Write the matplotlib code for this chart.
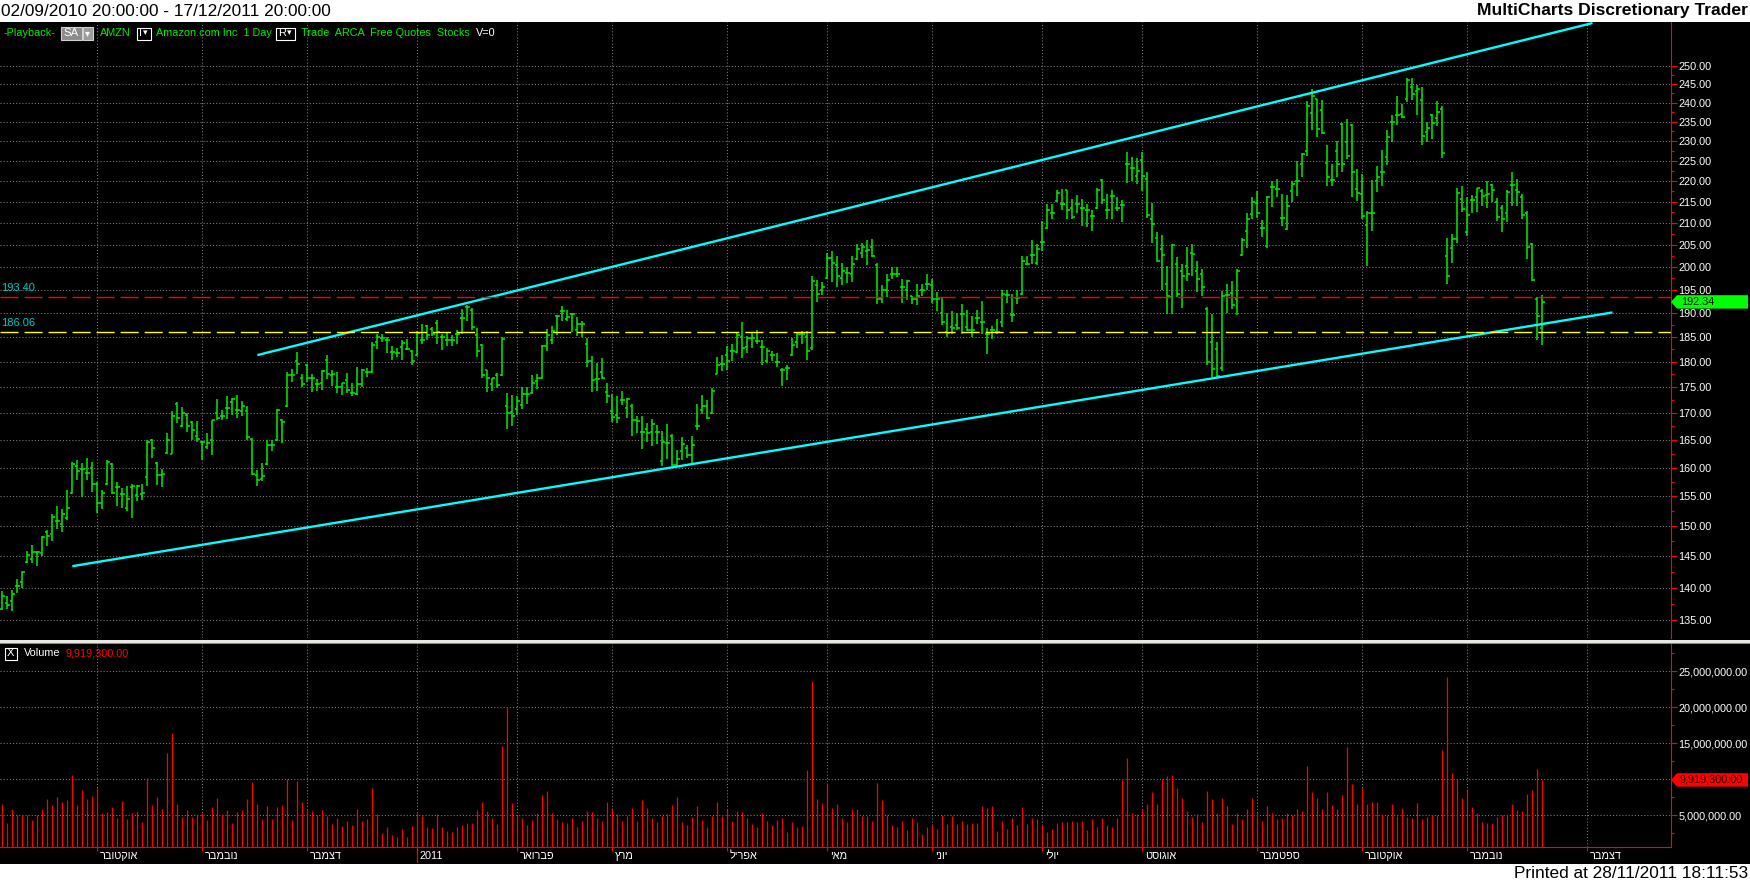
import numpy as np
import matplotlib
matplotlib.use("Agg")
import matplotlib.pyplot as plt
from matplotlib.patches import Rectangle, Polygon
from matplotlib.ticker import FixedLocator, FuncFormatter, NullFormatter
from matplotlib.transforms import blended_transform_factory

plt.rcParams['font.family'] = ['Liberation Sans', 'DejaVu Sans']

# AMZN daily bars
opens = [
    136.7, 137.6, 137.9, 140.3, 140.9, 144.0, 144.6, 145.6, 145.5, 149.0,
    148.7, 150.7, 150.3, 151.2, 155.5, 160.2, 159.8, 159.0, 160.0, 157.1,
    153.9, 157.1, 160.7, 156.5, 155.3, 153.0, 156.5, 155.2, 155.3, 158.4,
    165.0, 160.8, 158.6, 162.7, 162.5, 171.7, 167.6, 169.7, 168.3, 165.8,
    164.6, 163.7, 164.9, 170.0, 169.5, 170.9, 172.0, 170.6, 170.3, 170.3,
    165.2, 158.7, 158.0, 160.7, 164.0, 165.0, 168.7, 171.4, 177.3, 180.1,
    176.8, 179.3, 176.7, 175.5, 175.7, 180.3, 177.3, 174.9, 174.9, 176.4,
    173.8, 173.6, 175.5, 178.0, 178.0, 183.9, 184.7, 184.3, 182.0, 181.7,
    183.0, 182.6, 182.1, 181.4, 184.3, 187.2, 186.6, 187.8, 185.0, 184.3,
    184.3, 185.6, 188.9, 191.2, 190.6, 185.3, 183.3, 178.3, 175.5, 177.3,
    177.3, 171.4, 170.1, 170.8, 171.6, 173.6, 173.9, 176.2, 176.7, 183.1,
    184.3, 189.3, 190.5, 188.7, 189.8, 186.5, 187.7, 183.5, 180.1, 176.6,
    178.0, 174.0, 170.3, 169.6, 172.4, 171.0, 171.4, 168.7, 166.5, 167.0,
    166.5, 166.4, 161.1, 164.4, 165.7, 160.5, 163.0, 163.5, 162.2, 167.6,
    170.5, 171.4, 170.0, 177.6, 179.5, 181.4, 182.2, 181.9, 185.0, 183.0,
    184.7, 184.2, 183.0, 180.2, 181.3, 180.0, 178.4, 178.8, 181.4, 184.0,
    185.6, 185.0, 182.7, 196.0, 195.0, 197.6, 202.0, 200.5, 197.5, 198.6,
    198.3, 201.8, 203.0, 203.5, 204.5, 200.5, 193.0, 195.0, 198.3, 198.5,
    195.6, 195.0, 193.5, 193.0, 194.9, 196.2, 196.0, 192.9, 190.0, 186.0,
    187.0, 187.5, 189.7, 187.0, 186.4, 189.0, 188.0, 185.6, 186.4, 186.0,
    188.0, 193.8, 189.5, 193.1, 194.0, 200.7, 202.7, 200.9, 205.5, 208.7,
    212.2, 215.1, 214.4, 217.7, 213.5, 214.4, 213.5, 213.1, 211.6, 213.5,
    220.2, 213.1, 216.4, 213.5, 214.2, 224.3, 223.3, 221.3, 225.1, 220.4,
    211.0, 206.5, 204.0, 196.2, 193.3, 200.6, 199.0, 200.1, 203.0, 199.0,
    198.3, 190.9, 184.0, 182.6, 178.7, 193.8, 194.3, 193.0, 202.7, 208.0,
    212.0, 214.6, 208.9, 204.7, 218.5, 218.0, 211.2, 208.5, 217.5, 220.1,
    224.1, 227.5, 237.2, 240.9, 238.0, 224.5, 220.3, 227.4, 234.5, 229.7,
    234.1, 218.1, 216.9, 209.5, 212.2, 220.1, 222.3, 226.0, 235.0, 236.7,
    237.0, 240.9, 244.3, 243.0, 240.7, 232.2, 236.8, 235.9, 238.4, 202.4,
    204.1, 206.3, 215.6, 207.8, 215.4, 216.2, 217.6, 216.6, 219.1, 214.8,
    213.4, 212.2, 218.9, 217.8, 216.2, 212.2, 205.1, 193.0, 186.9,
]
highs = [
    139.5, 138.7, 139.7, 141.3, 142.6, 145.9, 146.8, 145.8, 148.3, 149.2,
    152.0, 153.3, 152.8, 156.1, 161.0, 161.3, 160.9, 161.8, 161.0, 157.5,
    156.1, 161.3, 160.9, 157.4, 156.4, 156.8, 157.1, 157.0, 157.1, 164.9,
    165.2, 161.0, 159.8, 166.3, 170.3, 172.1, 171.1, 170.0, 168.5, 168.5,
    164.8, 166.2, 168.7, 172.7, 170.6, 173.3, 172.8, 173.5, 172.2, 171.4,
    165.4, 159.5, 160.8, 165.0, 164.9, 170.8, 168.8, 178.0, 178.5, 182.0,
    177.6, 179.5, 177.5, 176.5, 178.4, 181.4, 178.3, 178.0, 175.8, 177.8,
    175.7, 179.0, 178.5, 178.8, 183.9, 185.7, 185.6, 184.9, 183.1, 182.8,
    184.3, 184.5, 182.3, 186.2, 187.7, 187.4, 187.1, 188.5, 185.6, 186.0,
    185.3, 186.4, 190.8, 191.7, 191.0, 186.8, 183.5, 178.4, 176.8, 177.8,
    184.9, 173.8, 173.4, 173.3, 175.0, 175.0, 177.3, 177.5, 183.3, 186.6,
    187.2, 189.5, 191.4, 190.6, 190.0, 189.1, 188.4, 184.7, 181.1, 179.8,
    180.8, 175.8, 173.7, 173.2, 174.3, 172.9, 171.8, 169.5, 169.5, 168.1,
    168.9, 167.8, 166.7, 167.9, 166.0, 163.2, 165.5, 164.1, 165.8, 171.8,
    173.4, 172.4, 174.7, 181.0, 181.4, 183.2, 183.5, 186.1, 188.1, 185.2,
    186.0, 186.5, 184.4, 182.7, 182.1, 181.8, 178.8, 179.4, 184.8, 186.0,
    186.3, 186.3, 198.0, 197.0, 196.6, 203.0, 203.5, 202.5, 200.9, 199.9,
    202.3, 205.2, 205.4, 206.1, 206.3, 200.9, 195.9, 198.3, 200.0, 200.0,
    197.2, 197.0, 193.7, 196.3, 196.2, 198.5, 197.2, 194.4, 193.2, 189.9,
    190.5, 189.9, 191.9, 190.7, 189.4, 190.7, 192.5, 186.8, 187.2, 188.8,
    194.8, 195.0, 194.1, 194.8, 202.5, 202.3, 206.1, 205.2, 210.5, 214.4,
    214.4, 217.7, 218.1, 217.9, 215.6, 216.7, 215.7, 214.4, 213.1, 218.3,
    220.4, 216.9, 217.9, 216.0, 215.5, 227.1, 225.9, 225.8, 227.3, 222.3,
    214.6, 207.9, 207.2, 200.2, 205.2, 202.2, 200.6, 204.5, 205.1, 201.2,
    199.5, 191.2, 189.7, 184.0, 194.7, 196.2, 196.9, 199.5, 206.5, 212.2,
    216.2, 217.6, 210.6, 216.4, 220.1, 220.5, 216.8, 216.6, 219.9, 224.9,
    226.9, 240.4, 243.6, 241.1, 240.6, 228.9, 224.3, 230.1, 234.7, 235.8,
    234.3, 223.0, 221.6, 212.8, 220.3, 223.6, 227.8, 232.7, 236.7, 241.7,
    239.7, 246.6, 246.6, 244.8, 244.3, 234.8, 237.0, 240.4, 239.0, 206.5,
    207.3, 218.4, 218.8, 216.2, 216.6, 218.3, 218.0, 220.1, 219.3, 215.8,
    214.2, 217.8, 222.3, 220.4, 216.8, 212.8, 205.3, 193.3, 193.8,
]
lows = [
    136.6, 136.8, 136.4, 139.2, 140.0, 143.9, 143.9, 143.5, 145.1, 146.6,
    147.4, 149.5, 149.0, 151.0, 155.3, 157.8, 154.9, 157.8, 155.7, 152.2,
    152.8, 156.9, 155.3, 153.3, 152.9, 152.4, 151.3, 154.1, 154.3, 156.7,
    161.7, 157.0, 156.5, 162.4, 162.4, 168.2, 167.4, 166.5, 164.9, 164.6,
    161.3, 163.4, 162.2, 168.6, 168.7, 168.8, 169.7, 169.0, 169.5, 165.0,
    158.7, 156.7, 157.7, 160.5, 162.9, 164.8, 164.4, 171.2, 176.0, 177.6,
    174.9, 176.0, 174.0, 174.2, 174.5, 176.5, 175.1, 173.8, 173.4, 173.8,
    173.3, 173.4, 174.9, 177.0, 177.8, 182.5, 183.9, 181.7, 180.3, 181.0,
    180.3, 182.4, 179.3, 181.2, 183.5, 184.3, 185.2, 183.5, 182.3, 183.1,
    183.2, 183.5, 185.6, 188.4, 186.4, 181.0, 176.8, 174.1, 174.2, 174.7,
    177.2, 167.0, 167.6, 169.6, 170.8, 171.8, 173.6, 174.6, 176.5, 182.2,
    183.5, 185.3, 188.4, 188.2, 186.1, 185.1, 185.0, 179.0, 174.0, 174.2,
    176.6, 171.9, 168.3, 168.2, 171.5, 169.0, 165.8, 166.2, 163.4, 164.6,
    163.8, 164.3, 160.3, 161.5, 160.3, 160.3, 161.3, 161.7, 160.4, 166.8,
    169.9, 168.8, 169.8, 177.5, 178.2, 178.4, 180.2, 181.8, 180.8, 181.8,
    182.7, 183.6, 179.3, 179.8, 180.2, 178.9, 175.1, 176.4, 181.2, 182.7,
    183.5, 180.3, 182.4, 192.4, 193.8, 197.2, 196.7, 195.6, 196.0, 196.5,
    196.6, 201.6, 202.0, 200.3, 202.1, 191.9, 192.1, 193.3, 197.2, 197.7,
    192.0, 192.8, 191.8, 191.6, 193.5, 194.9, 192.0, 190.3, 187.4, 185.0,
    185.6, 186.5, 185.6, 186.2, 184.9, 187.6, 185.6, 181.5, 184.6, 185.6,
    187.0, 192.1, 188.1, 191.9, 193.8, 200.3, 200.7, 200.5, 203.5, 208.5,
    210.9, 214.9, 213.1, 211.0, 211.0, 212.2, 209.3, 209.1, 208.2, 213.3,
    214.4, 210.8, 211.0, 212.8, 210.3, 219.5, 220.0, 219.2, 217.5, 211.2,
    205.3, 201.1, 194.8, 189.8, 189.7, 193.3, 191.1, 196.9, 198.0, 194.5,
    193.5, 179.4, 177.0, 176.9, 178.2, 189.9, 190.8, 189.5, 202.5, 204.1,
    211.0, 211.2, 206.8, 204.2, 213.8, 216.0, 209.3, 208.3, 214.8, 216.4,
    220.9, 226.3, 232.7, 230.9, 231.8, 218.8, 218.8, 221.0, 222.1, 225.5,
    216.0, 215.2, 211.0, 200.2, 208.1, 217.2, 218.8, 224.0, 229.7, 234.0,
    236.0, 240.1, 240.6, 236.6, 228.9, 229.7, 230.4, 233.8, 225.6, 196.2,
    200.9, 205.4, 212.6, 207.0, 212.4, 212.6, 214.0, 213.6, 215.0, 210.5,
    207.8, 210.2, 214.0, 214.0, 211.0, 201.8, 196.9, 184.4, 183.3,
]
closes = [
    138.8, 137.3, 139.1, 140.3, 142.5, 145.2, 145.6, 145.6, 148.2, 148.3,
    151.5, 150.7, 152.0, 152.9, 160.7, 159.4, 159.7, 159.0, 157.1, 153.8,
    155.5, 161.0, 155.5, 156.5, 155.3, 154.5, 156.8, 156.8, 155.5, 164.7,
    163.5, 158.7, 158.8, 164.9, 169.5, 169.0, 170.0, 167.6, 166.8, 165.2,
    164.6, 164.4, 168.6, 169.0, 169.5, 170.9, 172.6, 170.6, 171.3, 165.6,
    158.8, 157.8, 158.5, 164.1, 164.0, 170.5, 168.3, 177.3, 177.3, 179.5,
    175.5, 176.8, 176.8, 175.5, 178.1, 177.6, 177.5, 174.9, 175.7, 174.4,
    173.8, 175.5, 178.3, 178.0, 183.4, 184.9, 184.7, 184.3, 182.0, 181.7,
    183.7, 182.6, 180.1, 185.9, 184.3, 185.3, 185.7, 186.0, 185.0, 184.3,
    184.3, 185.6, 188.9, 191.2, 187.0, 182.1, 177.3, 176.7, 176.7, 175.4,
    184.5, 170.0, 169.5, 172.2, 173.6, 173.6, 175.7, 176.7, 183.1, 185.3,
    186.3, 189.3, 190.5, 189.1, 189.8, 187.7, 187.7, 180.1, 176.4, 176.6,
    176.8, 173.3, 169.2, 169.1, 172.4, 172.7, 168.7, 168.5, 166.5, 166.2,
    168.0, 166.4, 164.6, 164.4, 160.5, 161.6, 164.2, 162.2, 164.0, 167.6,
    171.4, 169.0, 174.3, 179.3, 179.6, 180.1, 182.2, 185.4, 182.7, 184.7,
    184.7, 184.2, 183.0, 182.2, 181.3, 180.0, 178.4, 178.8, 183.4, 185.7,
    185.6, 182.2, 196.8, 194.1, 195.6, 202.0, 200.9, 198.0, 199.0, 198.6,
    200.7, 204.0, 204.4, 203.8, 202.3, 192.9, 194.8, 197.0, 198.3, 198.5,
    195.6, 196.8, 192.9, 193.5, 194.9, 196.2, 193.0, 192.9, 188.1, 185.8,
    186.9, 186.9, 189.7, 186.4, 186.4, 189.0, 188.0, 185.6, 186.4, 186.0,
    194.1, 193.8, 189.5, 193.1, 201.2, 200.7, 202.7, 204.0, 205.5, 213.1,
    212.2, 217.1, 214.4, 213.0, 211.3, 214.4, 213.5, 213.1, 211.6, 217.9,
    215.5, 213.1, 216.4, 213.5, 214.2, 224.3, 223.3, 222.5, 221.3, 211.8,
    209.7, 201.3, 202.6, 193.6, 205.0, 194.0, 197.9, 198.5, 202.8, 197.4,
    195.6, 180.0, 178.5, 177.2, 193.6, 193.8, 191.7, 199.1, 206.1, 210.8,
    215.0, 212.2, 208.9, 216.2, 218.5, 218.1, 211.2, 214.0, 219.3, 220.1,
    226.6, 239.2, 241.7, 233.2, 232.0, 221.0, 220.3, 224.2, 224.2, 226.3,
    222.3, 217.0, 211.6, 212.2, 212.2, 221.0, 222.3, 231.0, 235.0, 236.7,
    236.1, 246.0, 242.2, 243.8, 231.3, 233.3, 234.7, 237.4, 226.9, 198.0,
    206.3, 217.1, 213.2, 211.8, 215.4, 218.2, 216.4, 216.8, 217.8, 211.3,
    210.8, 217.3, 218.9, 217.4, 211.8, 204.5, 197.0, 189.3, 192.34,
]
# volume in millions of shares
volume_m = [
    6.6, 4.0, 5.9, 5.0, 5.0, 5.0, 4.4, 5.0, 5.9, 7.3,
    6.4, 7.5, 6.8, 7.1, 10.6, 6.4, 8.5, 7.3, 7.7, 8.8,
    5.3, 5.5, 6.2, 4.6, 7.0, 4.5, 5.3, 5.6, 4.1, 10.2,
    6.4, 7.5, 5.9, 13.7, 16.4, 6.6, 4.8, 5.7, 4.8, 5.0,
    5.3, 4.4, 6.2, 7.4, 5.2, 5.7, 3.9, 5.5, 5.7, 7.3,
    9.6, 6.6, 4.5, 6.3, 4.5, 6.2, 6.4, 10.0, 4.4, 9.8,
    6.9, 5.9, 5.6, 5.0, 5.7, 4.9, 3.8, 4.6, 3.5, 4.2,
    3.7, 5.9, 4.2, 4.5, 8.8, 5.2, 2.5, 3.4, 2.3, 2.0,
    3.1, 2.0, 3.5, 5.3, 4.9, 3.4, 3.2, 5.2, 3.4, 2.8,
    2.7, 3.4, 3.7, 3.9, 3.9, 5.7, 6.9, 5.6, 4.6, 3.8,
    14.6, 20.0, 6.7, 5.0, 4.6, 3.7, 4.4, 5.3, 7.8, 8.4,
    5.3, 4.5, 4.1, 3.9, 4.6, 3.4, 4.2, 5.6, 5.5, 4.6,
    4.2, 6.9, 5.9, 5.2, 4.2, 4.9, 6.0, 4.2, 7.1, 6.0,
    4.6, 4.1, 4.9, 5.2, 6.4, 7.5, 4.1, 3.7, 4.8, 6.3,
    4.4, 3.4, 4.9, 6.9, 4.9, 5.9, 4.2, 5.6, 5.5, 4.6,
    3.8, 3.4, 5.3, 4.2, 3.7, 4.4, 4.6, 2.7, 4.1, 3.4,
    3.5, 11.3, 23.7, 7.3, 6.7, 9.5, 6.0, 6.6, 4.6, 4.1,
    5.9, 5.9, 4.9, 4.9, 4.2, 9.5, 7.1, 5.0, 3.7, 3.4,
    4.2, 3.0, 4.6, 4.1, 2.4, 3.4, 3.7, 3.1, 5.0, 3.8,
    4.9, 3.8, 4.2, 3.8, 3.9, 3.9, 6.3, 6.0, 6.3, 2.8,
    4.2, 3.1, 4.6, 3.7, 6.2, 3.8, 4.6, 4.5, 3.7, 2.7,
    3.1, 3.9, 4.1, 4.1, 4.2, 4.1, 4.2, 3.0, 4.5, 3.4,
    4.6, 3.7, 3.4, 4.6, 9.9, 13.0, 5.3, 5.2, 5.9, 6.6,
    8.2, 6.6, 10.0, 10.5, 10.6, 8.8, 7.4, 5.6, 4.8, 5.2,
    4.1, 8.4, 7.3, 5.3, 7.4, 6.3, 3.8, 5.3, 4.5, 5.9,
    7.4, 5.3, 4.2, 6.3, 5.3, 4.5, 4.6, 5.3, 5.0, 5.9,
    5.6, 11.9, 8.2, 7.4, 5.9, 8.2, 6.4, 5.9, 7.8, 14.5,
    9.4, 6.6, 8.8, 6.6, 6.9, 6.9, 5.2, 5.0, 6.6, 4.9,
    6.0, 4.8, 4.6, 6.7, 4.5, 4.8, 5.0, 5.0, 14.1, 24.2,
    10.9, 10.0, 7.4, 8.7, 6.2, 5.3, 4.1, 3.9, 3.9, 4.8,
    5.0, 5.2, 6.6, 5.7, 5.6, 8.0, 8.5, 11.4, 9.9193,
]

# first bar of each month (bar index) and the Hebrew month names
month_start_bar = [19, 40, 61, 83, 103, 122, 145, 165, 186, 208, 228, 251, 272, 293, 317]
month_names = ['אוקטובר', 'נובמבר', 'דצמבר', '2011', 'פברואר', 'מרץ', 'אפריל', 'מאי',
               'יוני', 'יולי', 'אוגוסט', 'ספטמבר', 'אוקטובר', 'נובמבר', 'דצמבר']

# drawn trend lines (bar index, price)
upper_line_bar = [51, 318]
upper_line_price = [181.3, 262.2]
lower_line_bar = [14, 322]
lower_line_price = [143.4, 190.1]

level_prices = [193.40, 186.06]
level_colors = ['#ff0000', '#ffff00']
last_close = 192.34
last_volume = 9919300

W, H = 1750, 884
GREEN = '#00ee00'
CYAN = '#00ffff'
GRID = '#808080'


def fx(px):
    return px / W


def fy(py):
    return 1 - py / H


def vol_label(v, pos):
    # the 10M label sits under the last-volume marker, so it is not shown
    if abs(v - 10e6) < 1:
        return ''
    return f'{v:,.2f}'


fig = plt.figure(figsize=(W / 100, H / 100), dpi=100, facecolor='white')
fig.patches.append(Rectangle((0, fy(864)), 1, (864 - 22) / H, transform=fig.transFigure,
                             facecolor='black', edgecolor='none', zorder=-5))

ax_p = fig.add_axes([0, fy(638), fx(1671), (638 - 22) / H])
ax_v = fig.add_axes([0, fy(847), fx(1671), (847 - 643) / H])

x = np.arange(len(closes))

# ---- price panel
ax_p.set_facecolor('black')
ax_p.set_yscale('log')
ax_p.vlines(x, lows, highs, color=GREEN, lw=1.1)
ax_p.hlines(opens, x - 0.5, x, color=GREEN, lw=1.1)
ax_p.hlines(closes, x, x + 0.5, color=GREEN, lw=1.1)

ax_p.plot(upper_line_bar, upper_line_price, color=CYAN, lw=1.7, solid_capstyle='butt')
ax_p.plot(lower_line_bar, lower_line_price, color=CYAN, lw=1.7, solid_capstyle='butt')

for lvl, c in zip(level_prices, level_colors):
    ax_p.axhline(lvl, color=c, lw=1.0, dashes=(13, 4.3))
    ax_p.annotate(f'{lvl:.2f}', xy=(0, lvl), xycoords=ax_p.get_yaxis_transform(),
                  xytext=(1, 2.5), textcoords='offset points', color='#00c8c8',
                  fontsize=8, va='bottom', ha='left')

ax_p.set_xlim(-0.46, 333.7)
ax_p.set_ylim(132.4, 262.5)
ax_p.yaxis.tick_right()
ax_p.yaxis.set_major_locator(FixedLocator(np.arange(135, 251, 5)))
ax_p.yaxis.set_minor_locator(FixedLocator(np.arange(137.5, 251, 5)))
ax_p.yaxis.set_major_formatter(FuncFormatter(lambda v, p: f'{v:.2f}'))
ax_p.yaxis.set_minor_formatter(NullFormatter())
ax_p.tick_params(axis='y', which='both', colors='red', labelcolor='white', labelsize=7.8,
                 direction='out', width=0.8, pad=1.5)
ax_p.tick_params(axis='y', which='major', length=4)
ax_p.tick_params(axis='y', which='minor', length=2.5)
ax_p.set_xticks(month_start_bar)
ax_p.tick_params(axis='x', length=0, labelbottom=False)
ax_p.grid(True, which='major', color=GRID, linestyle=(0, (1, 2)), lw=0.75)
for s in ['top', 'left', 'bottom']:
    ax_p.spines[s].set_visible(False)
ax_p.spines['right'].set_color('red')

# last price marker
bt = blended_transform_factory(fig.transFigure, ax_p.transData)
k = np.exp(6.7 / 900)
ax_p.add_patch(Polygon([(fx(1671), last_close), (fx(1677), last_close * k), (fx(1748), last_close * k),
                        (fx(1748), last_close / k), (fx(1677), last_close / k)], closed=True,
                       transform=bt, facecolor='#00ff00', edgecolor='none', clip_on=False, zorder=10))
ax_p.text(fx(1681), last_close, f'{last_close:.2f}', transform=bt, color='black', fontsize=7.8,
          va='center', ha='left', clip_on=False, zorder=11)

# ---- volume panel
vol = np.array(volume_m) * 1e6
ax_v.set_facecolor('black')
ax_v.vlines(x, 0, vol, color='#ff0000', lw=0.9)
ax_v.set_xlim(-0.46, 333.7)
ax_v.set_ylim(0.6e6, 28.93e6)
ax_v.yaxis.tick_right()
ax_v.yaxis.set_major_locator(FixedLocator(np.arange(5e6, 26e6, 5e6)))
ax_v.yaxis.set_minor_locator(FixedLocator(np.arange(2.5e6, 28e6, 5e6)))
ax_v.yaxis.set_major_formatter(FuncFormatter(vol_label))
ax_v.yaxis.set_minor_formatter(NullFormatter())
ax_v.tick_params(axis='y', which='both', colors='red', labelcolor='white', labelsize=7.8,
                 direction='out', width=0.8, pad=1.5)
ax_v.tick_params(axis='y', which='major', length=4)
ax_v.tick_params(axis='y', which='minor', length=2.5)
ax_v.set_xticks(month_start_bar)
ax_v.tick_params(axis='x', colors='red', length=3, width=0.8, labelbottom=False)
ax_v.grid(True, which='major', color=GRID, linestyle=(0, (1, 2)), lw=0.75)
for s in ['top', 'left']:
    ax_v.spines[s].set_visible(False)
ax_v.spines['right'].set_color('red')
ax_v.spines['bottom'].set_color('red')

xt = ax_v.get_xaxis_transform()
for b, name in zip(month_start_bar, month_names):
    label = name if name.isdigit() else name[::-1]
    ax_v.text(b + 0.5, -0.045, label, transform=xt, color='white', fontsize=7.8,
              va='center', ha='left', clip_on=False)
    if name.isdigit():
        ax_v.plot([b, b], [0, -0.074], transform=xt, color='red', lw=0.9, clip_on=False)

# last volume marker
bv = blended_transform_factory(fig.transFigure, ax_v.transData)
dv = 6.7 / 36 * 5e6
ax_v.add_patch(Polygon([(fx(1671), last_volume), (fx(1677), last_volume + dv), (fx(1748), last_volume + dv),
                        (fx(1748), last_volume - dv), (fx(1677), last_volume - dv)], closed=True,
                       transform=bv, facecolor='#ff0000', edgecolor='none', clip_on=False, zorder=10))
ax_v.text(fx(1680), last_volume, f'{last_volume:,.2f}', transform=bv, color='#200000', fontsize=7.8,
          va='center', ha='left', clip_on=False, zorder=11)

# panel separator
fig.patches.append(Rectangle((0, fy(643)), 1, 3.5 / H, transform=fig.transFigure,
                             facecolor='#e8e8e2', edgecolor='none', zorder=5))
fig.patches.append(Rectangle((0, fy(644)), 1, 1 / H, transform=fig.transFigure,
                             facecolor='#8a8a80', edgecolor='none', zorder=5))

# ---- header and toolbar texts
fig.text(fx(1), fy(11), '02/09/2010 20:00:00 - 17/12/2011 20:00:00', fontsize=12.4,
         color='black', va='center', ha='left')
fig.text(fx(1748), fy(11), 'MultiCharts Discretionary Trader', fontsize=12.6, weight='bold',
         color='black', va='center', ha='right')
fig.text(fx(1748), fy(874), 'Printed at 28/11/2011 18:11:53', fontsize=12.4,
         color='black', va='center', ha='right')

ty = fy(33)
fig.text(fx(4), ty, '-Playback-', color=GREEN, fontsize=7.8, va='center')
fig.patches.append(Rectangle((fx(61), fy(40)), fx(21), 13 / H, transform=fig.transFigure,
                             facecolor='#8c8c8c', edgecolor='#d0d0d0', lw=0.8, zorder=4))
fig.patches.append(Rectangle((fx(83), fy(40)), fx(10), 13 / H, transform=fig.transFigure,
                             facecolor='#9c9c9c', edgecolor='#d0d0d0', lw=0.8, zorder=4))
fig.text(fx(63.5), ty, 'SA', color='white', fontsize=8.2, va='center', zorder=6)
fig.text(fx(84.5), ty, '▾', color='white', fontsize=7, va='center', zorder=6)
fig.text(fx(100), ty, 'AMZN', color=GREEN, fontsize=7.8, va='center')
for bx, letter in [(137, 'I'), (276, 'R')]:
    wbox = 14 if letter == 'I' else 19
    fig.patches.append(Rectangle((fx(bx), fy(39.5)), fx(wbox), 12 / H, transform=fig.transFigure,
                                 facecolor='black', edgecolor='white', lw=0.8, zorder=4))
    fig.text(fx(bx + 2), ty, letter, color='white', fontsize=8, va='center', zorder=6)
    fig.text(fx(bx + wbox - 8), ty, '▾', color='white', fontsize=6.5, va='center', zorder=6)
fig.text(fx(156), ty, 'Amazon.com Inc  1 Day', color=GREEN, fontsize=7.8, va='center')
fig.text(fx(301), ty, 'Trade  ARCA  Free Quotes  Stocks', color=GREEN, fontsize=7.8, va='center')
fig.text(fx(476), ty, 'V=0', color='white', fontsize=7.8, va='center')

vy = fy(653)
fig.patches.append(Rectangle((fx(4.5), fy(659.5)), fx(12), 12 / H, transform=fig.transFigure,
                             facecolor='black', edgecolor='white', lw=0.8, zorder=6))
fig.text(fx(6.3), vy, 'X', color='white', fontsize=8, va='center', zorder=7)
fig.text(fx(24), vy, 'Volume', color='white', fontsize=7.8, va='center')
fig.text(fx(66), vy, f'{last_volume:,.2f}', color='#ff0000', fontsize=7.8, va='center')

fig.savefig('out.png', dpi=100, facecolor='white')
